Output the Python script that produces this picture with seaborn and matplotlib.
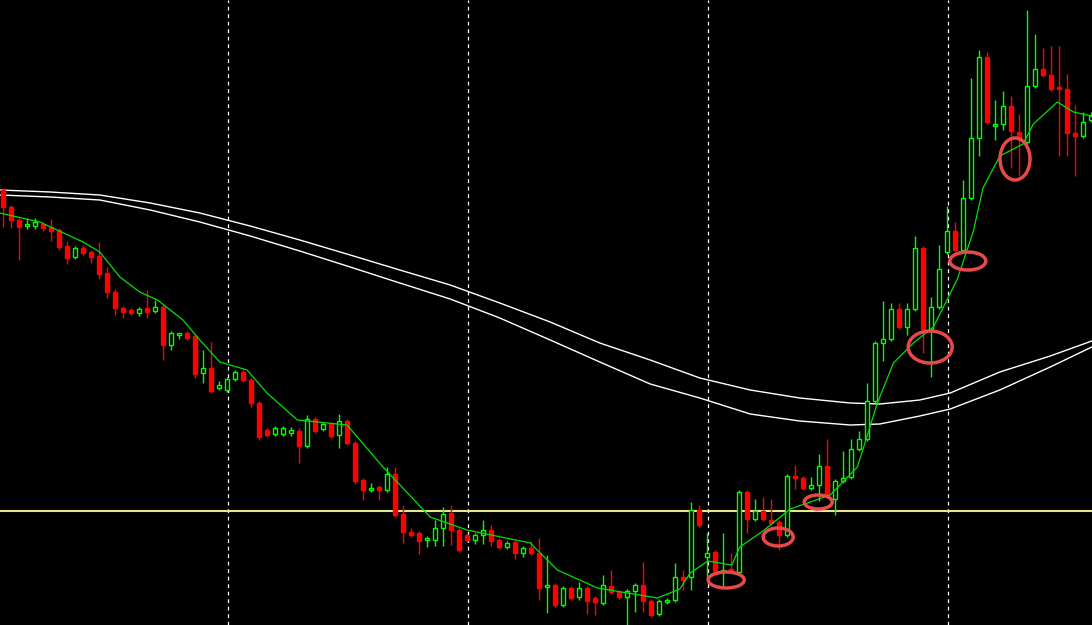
import matplotlib
matplotlib.use('Agg')
import matplotlib.pyplot as plt
import numpy as np
import pandas as pd
import seaborn as sns
from matplotlib.patches import Ellipse

# OHLC per bar (price units)
opens = [435, 418, 405, 399, 399, 401, 398, 395, 379, 368, 377, 373, 369, 352, 333, 317, 315, 312, 317, 314,
         318, 280, 290, 292, 289, 252, 257, 237, 235, 246, 253, 245, 222, 195, 191, 191, 192, 194, 179, 206,
         196, 201, 190, 204, 182, 145, 135, 138, 135, 151, 111, 93, 92, 85, 85, 97, 112, 95, 90, 85,
         90, 95, 85, 78, 83, 72, 77, 72, 38, 40, 20, 37, 28, 37, 27, 22, 39, 33, 28, 34,
         40, 24, 11, 23, 25, 48, 48, 115, 68, 73, 53, 56, 53, 133, 106, 114, 105, 103, 90, 149,
         147, 137, 140, 159, 126, 144, 148, 176, 186, 224, 282, 286, 316, 298, 316, 377, 296, 318, 373, 394,
         375, 427, 487, 568, 499, 501, 519, 493, 483, 539, 556, 550, 538, 536, 492, 489, 505]
highs = [437, 420, 407, 407, 407, 403, 406, 397, 384, 379, 380, 375, 383, 358, 336, 319, 317, 318, 335, 325,
         320, 294, 292, 294, 291, 275, 283, 244, 248, 255, 255, 247, 224, 197, 199, 199, 198, 197, 210, 208,
         203, 203, 211, 206, 184, 147, 142, 140, 158, 158, 120, 97, 94, 89, 105, 118, 120, 97, 92, 92,
         105, 100, 87, 84, 85, 79, 84, 87, 70, 42, 39, 39, 43, 39, 29, 50, 55, 35, 36, 42,
         63, 26, 26, 27, 62, 55, 123, 120, 92, 75, 92, 72, 135, 135, 126, 128, 126, 105, 151, 160,
         149, 148, 171, 186, 146, 174, 186, 194, 242, 284, 324, 322, 322, 322, 389, 379, 328, 380, 419, 403,
         445, 547, 575, 573, 525, 534, 529, 511, 615, 591, 577, 579, 579, 551, 520, 513, 513]
lows = [398, 397, 365, 396, 396, 394, 384, 375, 361, 366, 370, 362, 346, 327, 310, 307, 310, 309, 307, 312,
        265, 275, 286, 285, 247, 242, 232, 235, 233, 244, 243, 218, 185, 188, 189, 189, 189, 162, 177, 192,
        194, 187, 177, 180, 141, 125, 133, 125, 133, 108, 82, 88, 71, 78, 79, 79, 80, 73, 83, 81,
        81, 79, 76, 76, 66, 68, 70, 25, 12, 18, 18, 25, 25, 11, 10, 20, 31, 26, 0, 13,
        13, 8, 9, 21, 23, 35, 35, 98, 46, 52, 38, 52, 51, 92, 104, 104, 100, 75, 88, 136,
        135, 135, 124, 128, 110, 142, 146, 174, 184, 222, 264, 284, 296, 290, 314, 272, 248, 316, 371, 373,
        373, 425, 469, 501, 485, 495, 457, 449, 481, 537, 548, 534, 469, 469, 449, 487, 503]
closes = [418, 405, 398, 401, 403, 397, 394, 378, 367, 377, 372, 368, 351, 333, 317, 313, 312, 316, 313, 318,
          280, 292, 292, 287, 251, 257, 234, 240, 246, 253, 245, 222, 188, 190, 197, 197, 195, 179, 206, 194,
          201, 189, 204, 182, 144, 135, 137, 135, 151, 110, 93, 90, 84, 87, 97, 111, 95, 75, 85, 90,
          95, 84, 78, 82, 72, 77, 72, 37, 40, 20, 37, 27, 37, 24, 23, 40, 33, 28, 34, 40,
          24, 10, 24, 25, 48, 45, 115, 100, 72, 54, 55, 54, 133, 106, 114, 106, 102, 90, 149, 147,
          137, 140, 159, 130, 144, 147, 176, 186, 224, 282, 286, 316, 298, 316, 377, 296, 318, 356, 394, 375,
          427, 487, 568, 503, 501, 519, 494, 487, 539, 556, 550, 536, 536, 492, 489, 503, 509]

# short moving average (green)
ma_bar = [-0.4, 4.6, 10, 12.1, 14.6, 17.1, 19.3, 22.5, 24.6, 27.1, 30.5, 33, 36.8, 43, 47.5, 53.4, 58, 65.9,
          69.3, 74.3, 81.8, 84.6, 85.9, 88.1, 91.1, 92.1, 95, 98.4, 103.4, 106.8, 109.3, 111.3, 113.8,
          116.3, 119.3, 121.3, 122.5, 124.6, 127.5, 128.8, 131.8, 133.8, 136.1]
ma_price = [412, 403, 383, 373, 348, 333, 325, 305, 285, 263, 255, 232, 205, 200, 158, 108, 95, 82,
            55, 37, 27, 36, 52, 64, 60, 78, 94, 116, 130, 158, 222, 262, 282,
            298, 346, 394, 437, 469, 481, 501, 523, 513, 509]

# two slow moving averages (white)
slow_bar = [-0.4, 5.9, 12.1, 18.4, 24.6, 30.9, 37.1, 43.4, 49.6, 55.9, 62.1, 68.4, 74.6, 80.9, 87.1,
            93.4, 99.6, 105.9, 109.6, 114.6, 118.4, 124.6, 130.9, 136.1]
slow_upper = [435, 433, 430, 422, 412, 399, 385, 370, 355, 340, 322, 303, 282, 265, 247,
              235, 227, 222, 221, 225, 232, 253, 269, 284]
slow_lower = [430, 428, 425, 415, 403, 389, 374, 358, 342, 326, 307, 285, 263, 241, 227,
              211, 204, 200, 201, 209, 216, 235, 258, 278]

level_price = 114
period_seps = [28.1, 58.1, 88.1, 118.1]

# marked pullbacks: (bar, price, width in bars, height in price)
marks = [(90.4, 45, 4.5, 16), (96.9, 88, 3.75, 18), (101.9, 123, 3.5, 14),
         (115.9, 278, 5.5, 32), (120.6, 364, 4.5, 18), (126.5, 466, 3.75, 42)]

df = pd.DataFrame({'open': opens, 'high': highs, 'low': lows, 'close': closes})
df['bar'] = np.arange(len(df))
up = df['close'] >= df['open']

sns.set_style('dark', {'axes.facecolor': 'black', 'figure.facecolor': 'black'})
fig = plt.figure(figsize=(10.92, 6.25), dpi=100)
ax = fig.add_axes([0, 0, 1, 1])
ax.set_facecolor('black')

for x in period_seps:
    ax.axvline(x, color='white', lw=0.9, ls=(0, (3, 3)), zorder=1)
ax.axhline(level_price, color='#e6e68a', lw=1.5, zorder=2)

sns.lineplot(x=slow_bar, y=slow_upper, ax=ax, color='white', lw=1, sort=False, zorder=2)
sns.lineplot(x=slow_bar, y=slow_lower, ax=ax, color='white', lw=1, sort=False, zorder=2)

colors = np.where(up, '#00ff00', '#ff0000')
ax.vlines(df['bar'], df['low'], df['high'], colors=colors, lw=1, zorder=3)
body_lo = np.minimum(df['open'], df['close'])
body_h = np.maximum(np.abs(df['close'] - df['open']), 1.2)
ax.bar(df['bar'][up], body_h[up], bottom=body_lo[up], width=0.62,
       facecolor='black', edgecolor='#00ff00', lw=1, zorder=4)
ax.bar(df['bar'][~up], body_h[~up], bottom=body_lo[~up], width=0.62,
       facecolor='#ff0000', edgecolor='#ff0000', lw=1, zorder=4)

sns.lineplot(x=ma_bar, y=ma_price, ax=ax, color='#00e000', lw=0.9, sort=False, zorder=5)

for bx, py, w, h in marks:
    ax.add_patch(Ellipse((bx, py), w, h, fill=False, edgecolor='#e84848', lw=2.5, zorder=6))

ax.set_xlim(-0.375, 136.125)
ax.set_ylim(0, 625)
ax.set_xticks([])
ax.set_yticks([])
for s in ax.spines.values():
    s.set_visible(False)

fig.savefig('out.png', dpi=100, facecolor='black')
